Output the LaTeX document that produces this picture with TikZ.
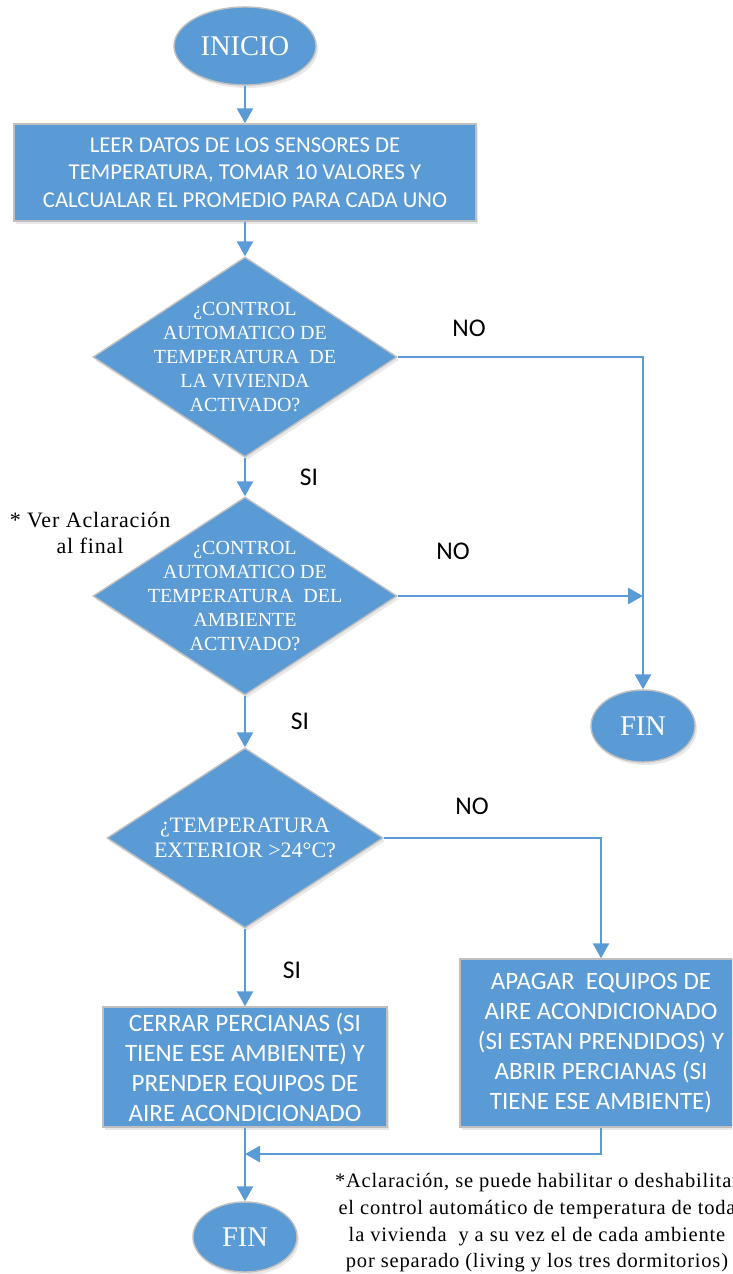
\documentclass[tikz,border=0pt]{standalone}
\usepackage{fontspec}
\setmainfont{Liberation Serif}
\newfontfamily\calibrifont{Carlito}
\newfontfamily\notefont[LetterSpace=4]{Liberation Serif}
\usetikzlibrary{shapes.geometric,arrows.meta,shadows}

\definecolor{flowblue}{HTML}{5B9BD5}
\definecolor{edgegray}{HTML}{BFBFBF}

\tikzset{
  shade/.style={drop shadow={opacity=0.18, shadow xshift=2pt, shadow yshift=-3pt}},
  shapebase/.style={draw=edgegray, line width=1.4pt, fill=flowblue, shade,
    text=white, align=center, inner sep=0pt},
  terminal/.style={shapebase, ellipse, font=\fontsize{28.5}{34}\selectfont},
  process/.style={shapebase, rectangle,
    font=\calibrifont\fontsize{22.7}{27.5}\selectfont},
  action/.style={shapebase, rectangle,
    font=\calibrifont\fontsize{25}{30}\selectfont},
  decision/.style={shapebase, diamond},
  dtext/.style={text=white, align=center, inner sep=0pt,
    font=\fontsize{20}{24}\selectfont},
  flow/.style={draw=flowblue, line width=2.6pt},
  flowarrow/.style={flow, -{Triangle[length=15pt,width=16pt]}},
  answer/.style={font=\calibrifont\fontsize{25.5}{30}\selectfont, inner sep=0pt},
  note/.style={align=center, inner sep=0pt, font=\notefont\fontsize{20.5}{26.7}\selectfont}
}

\begin{document}
\begin{tikzpicture}[x=1pt,y=-1pt]
  \useasboundingbox (0,0) rectangle (732,1274);
  \clip (0,0) rectangle (732,1274);

  % start
  \node[terminal, minimum width=142, minimum height=78] (inicio) at (245,46) {INICIO};

  % read sensors
  \node[process, minimum width=462, minimum height=97] (leer) at (245,172.5)
    {LEER DATOS DE LOS SENSORES DE\\TEMPERATURA, TOMAR 10 VALORES Y\\CALCUALAR EL PROMEDIO PARA CADA UNO};

  % decisions
  \node[decision, minimum width=304, minimum height=200,
        label={[dtext]center:{¿CONTROL\\AUTOMATICO DE\\TEMPERATURA~ DE\\LA VIVIENDA\\ACTIVADO?}}]
        (vivienda) at (245,357) {};
  \node[decision, minimum width=304, minimum height=198,
        label={[dtext]center:{¿CONTROL\\AUTOMATICO DE\\TEMPERATURA~ DEL\\AMBIENTE\\ACTIVADO?}}]
        (ambiente) at (245,596) {};
  \node[decision, minimum width=276, minimum height=180,
        label={[dtext, font=\fontsize{22}{25}\selectfont]center:{¿TEMPERATURA\\EXTERIOR >24°C?}}]
        (exterior) at (245,838) {};

  % end of the inactive branches
  \node[terminal, minimum width=104, minimum height=72] (finA) at (643,726) {FIN};

  % actions
  \node[action, minimum width=284, minimum height=120] (cerrar) at (245,1067)
    {CERRAR PERCIANAS (SI\\TIENE ESE AMBIENTE) Y\\PRENDER EQUIPOS DE\\AIRE ACONDICIONADO};
  \node[action, minimum width=282, minimum height=168] (apagar) at (601,1043)
    {APAGAR~ EQUIPOS DE\\AIRE ACONDICIONADO\\(SI ESTAN PRENDIDOS) Y\\ABRIR PERCIANAS (SI\\TIENE ESE AMBIENTE)};

  \node[terminal, minimum width=104, minimum height=70] (finB) at (245,1237) {FIN};

  % joints
  \coordinate (joinA) at (finA.north |- ambiente.east);
  \coordinate (joinB) at (245,1154);

  % connectors
  \draw[flowarrow] (inicio) -- (leer);
  \draw[flowarrow] (leer) -- (vivienda.north);
  \draw[flowarrow] (vivienda.south) -- (ambiente.north);
  \draw[flowarrow] (vivienda.east) -| (finA.north);
  \draw[flowarrow] (ambiente.east) -- (joinA);
  \draw[flowarrow] (ambiente.south) -- (exterior.north);
  \draw[flowarrow] (exterior.east) -| (apagar.north);
  \draw[flowarrow] (exterior.south) -- (cerrar.north);
  \draw[flowarrow] (apagar.south) |- (joinB);
  \draw[flowarrow] (cerrar.south) -- (finB.north);

  % branch labels
  \node[answer] (noA) at (469,328) {NO};
  \node[answer] (siA) at (309,477) {SI};
  \node[answer] (noB) at (453,551) {NO};
  \node[answer] (siB) at (300,721) {SI};
  \node[answer] (noC) at (472,806) {NO};
  \node[answer] (siC) at (292,970) {SI};

  % notes
  \node[note, font=\notefont\fontsize{22}{26}\selectfont] (ver) at (90,533) {* Ver Aclaración\\al final};
  \node[note] (aclaracion) at (537,1223)
    {*Aclaración, se puede habilitar o deshabilitar\\el control automático de temperatura de toda\\la vivienda~ y a su vez el de cada ambiente\\por separado (living y los tres dormitorios)};
\end{tikzpicture}
\end{document}
